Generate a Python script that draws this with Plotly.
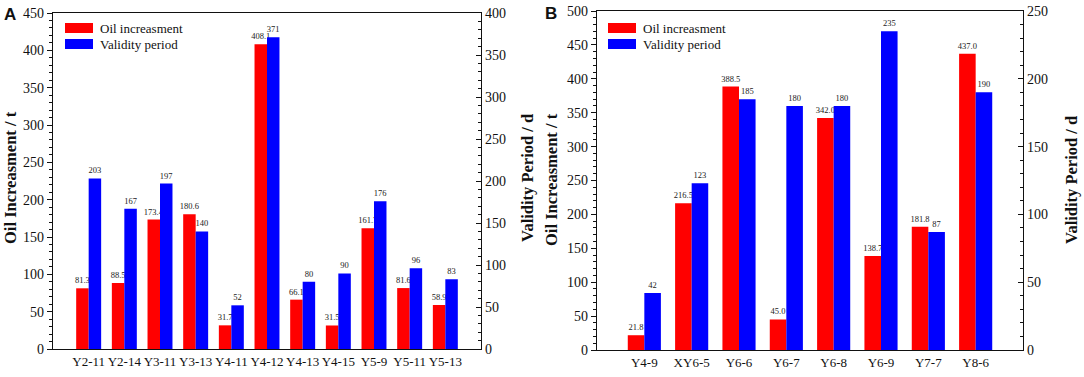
import plotly.graph_objects as go

# ---------------- data ----------------
wells_a = ["Y2-11", "Y2-14", "Y3-11", "Y3-13", "Y4-11", "Y4-12", "Y4-13", "Y4-15", "Y5-9", "Y5-11", "Y5-13"]
oil_a = [81.3, 88.5, 173.4, 180.6, 31.7, 408.1, 66.1, 31.5, 161.7, 81.6, 58.9]
validity_a = [203, 167, 197, 140, 52, 371, 80, 90, 176, 96, 83]

wells_b = ["Y4-9", "XY6-5", "Y6-6", "Y6-7", "Y6-8", "Y6-9", "Y7-7", "Y8-6"]
oil_b = [21.8, 216.5, 388.5, 45.0, 342.0, 138.7, 181.8, 437.0]
validity_b = [42, 123, 185, 180, 180, 235, 87, 190]

RED = "#ff0000"
BLUE = "#0000ff"
SERIF = "Liberation Serif, Times New Roman, serif"
SANS = "Liberation Sans, Arial, sans-serif"
W, H = 1084, 377
BW = 0.35

fig = go.Figure()

def add_panel(wells, oil, val, xa, yl, yr):
    fig.add_trace(go.Bar(
        x=wells, y=oil, xaxis=xa, yaxis=yl, name="Oil increasment",
        marker=dict(color=RED, line=dict(width=0)), width=BW, offset=-BW,
        text=[f"{v:.1f}" for v in oil], textposition="outside",
        textfont=dict(family=SERIF, size=8.5, color="#222"),
        constraintext="none", cliponaxis=False, showlegend=False))
    fig.add_trace(go.Bar(
        x=wells, y=val, xaxis=xa, yaxis=yr, name="Validity period",
        marker=dict(color=BLUE, line=dict(width=0)), width=BW, offset=0,
        text=[f"{v:d}" for v in val], textposition="outside",
        textfont=dict(family=SERIF, size=8.5, color="#222"),
        constraintext="none", cliponaxis=False, showlegend=False))

add_panel(wells_a, oil_a, validity_a, "x", "y", "y2")
add_panel(wells_b, oil_b, validity_b, "x2", "y3", "y4")

def px_x(p):
    return p / W

def px_y(p):
    return 1 - p / H

A_x = [px_x(53), px_x(481)]
A_y = [px_y(349), px_y(13)]
B_x = [px_x(597), px_x(1023)]
B_y = [px_y(350), px_y(11)]

axis_line = dict(showline=True, linecolor="#111", linewidth=1.2)
tickfont = dict(family=SERIF, size=14, color="#111")

def xaxis(domain, anchor, n):
    return dict(domain=domain, anchor=anchor, type="category", range=[-1, n],
                showgrid=False, zeroline=False, mirror=True, ticks="",
                tickfont=dict(family=SERIF, size=13, color="#111"),
                automargin=False, fixedrange=True, **axis_line)

def yaxis_left(domain, anchor, rng):
    return dict(domain=domain, anchor=anchor, range=rng, dtick=50, showgrid=False,
                zeroline=False, ticks="outside", ticklen=5, tickwidth=1, tickcolor="#111",
                minor=dict(dtick=10, ticks="outside", ticklen=3, tickcolor="#111"),
                tickfont=tickfont, automargin=False, **axis_line)

def yaxis_right(anchor, overlay, rng):
    return dict(anchor=anchor, overlaying=overlay, side="right", range=rng, dtick=50,
                showgrid=False, zeroline=False, ticks="inside", ticklen=5, tickwidth=1,
                tickcolor="#111",
                minor=dict(dtick=10, ticks="inside", ticklen=3, tickcolor="#111"),
                tickfont=tickfont, automargin=False, **axis_line)

fig.update_layout(
    width=W, height=H, margin=dict(l=0, r=0, t=0, b=0),
    paper_bgcolor="white", plot_bgcolor="white", barmode="overlay",
    xaxis=xaxis(A_x, "y", len(wells_a)),
    yaxis=yaxis_left(A_y, "x", [0, 450]),
    yaxis2=yaxis_right("x", "y", [0, 400]),
    xaxis2=xaxis(B_x, "y3", len(wells_b)),
    yaxis3=yaxis_left(B_y, "x2", [0, 500]),
    yaxis4=yaxis_right("x2", "y3", [0, 250]),
)

ann = []
shapes = []
title_font = dict(family=SERIF, size=16.5, color="#111")

def vtitle(text, xpx, ycenter_px):
    ann.append(dict(text=f"<b>{text}</b>", x=px_x(xpx), y=px_y(ycenter_px), xref="paper", yref="paper",
                    showarrow=False, textangle=-90, font=title_font,
                    xanchor="center", yanchor="middle"))

vtitle("Oil Increasment / t", 10, 178)
vtitle("Validity Period / d", 527, 178)
vtitle("Oil Increasment / t", 551, 180)
vtitle("Validity Period / d", 1071, 180)

for lab, xp, yp in [("A", 2, 3), ("B", 543, 2)]:
    ann.append(dict(text=f"<b>{lab}</b>", x=px_x(xp), y=px_y(yp), xref="paper", yref="paper",
                    showarrow=False, xanchor="left", yanchor="top",
                    font=dict(family=SANS, size=17, color="#111")))

def legend(x0, y0):
    for i, (col, name) in enumerate([(RED, "Oil increasment"), (BLUE, "Validity period")]):
        yt = y0 + i * 16
        shapes.append(dict(type="rect", xref="paper", yref="paper",
                           x0=px_x(x0), x1=px_x(x0 + 28), y0=px_y(yt + 10), y1=px_y(yt),
                           fillcolor=col, line=dict(width=0)))
        ann.append(dict(text=name, x=px_x(x0 + 33), y=px_y(yt + 5), xref="paper", yref="paper",
                        showarrow=False, xanchor="left", yanchor="middle",
                        font=dict(family=SERIF, size=13, color="#111")))

legend(65, 23)
legend(608, 23)

fig.update_layout(annotations=ann, shapes=shapes)
fig.write_html("out.html", config={"displayModeBar": False},
               post_script="document.body.style.margin='0';document.body.style.overflow='hidden';")
